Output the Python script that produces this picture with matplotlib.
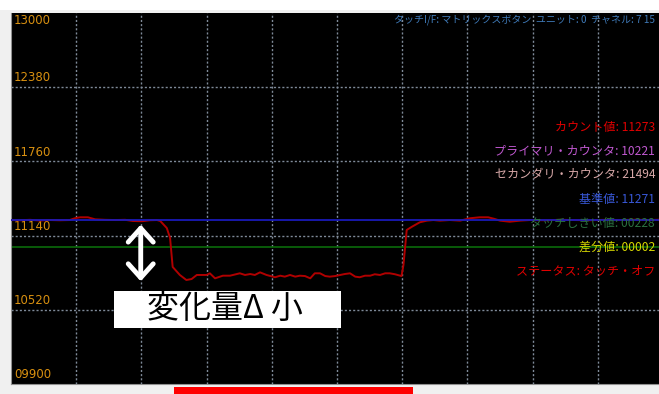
import matplotlib
matplotlib.use("Agg")
import matplotlib.pyplot as plt
from matplotlib.patches import Rectangle

plt.rcParams['font.family'] = ['Noto Sans CJK JP', 'DejaVu Sans']

# ---- data ----
y_ticks = [9900, 10520, 11140, 11760, 12380, 13000]
y_tick_labels = ["09900", "10520", "11140", "11760", "12380", "13000"]
baseline = 11271
threshold = 228
time = [0.00, 0.14, 0.29, 0.44, 0.60, 0.75, 0.90, 0.98, 1.06, 1.18, 1.29, 1.44, 1.60, 1.75,
        1.87, 2.01, 2.13, 2.24, 2.29, 2.39, 2.44, 2.48, 2.59, 2.69, 2.77, 2.85, 3.00, 3.05,
        3.13, 3.25, 3.36, 3.51, 3.59, 3.67, 3.74, 3.82, 3.92, 4.05, 4.13, 4.20, 4.28, 4.36,
        4.43, 4.51, 4.59, 4.66, 4.74, 4.82, 4.89, 4.97, 5.05, 5.12, 5.20, 5.28, 5.35, 5.43,
        5.51, 5.58, 5.66, 5.74, 5.81, 5.89, 5.99, 6.02, 6.07, 6.15, 6.27, 6.38, 6.48, 6.58,
        6.73, 6.89, 7.04, 7.19, 7.32, 7.42, 7.50, 7.65, 7.81, 7.96, 8.19, 8.42, 8.65, 8.88,
        9.11, 9.34, 9.57, 9.80, 9.94]
count = [11270, 11268, 11272, 11266, 11270, 11268, 11270, 11285, 11293, 11293, 11276, 11272,
         11270, 11272, 11262, 11260, 11268, 11270, 11262, 11203, 11120, 10878, 10811, 10769,
         10777, 10811, 10811, 10825, 10783, 10805, 10805, 10825, 10811, 10819, 10811, 10833,
         10811, 10792, 10805, 10797, 10811, 10797, 10805, 10802, 10783, 10825, 10825, 10802,
         10797, 10802, 10811, 10819, 10825, 10797, 10792, 10805, 10805, 10817, 10811, 10825,
         10825, 10817, 10802, 10894, 11187, 11214, 11251, 11265, 11270, 11265, 11270, 11265,
         11285, 11293, 11293, 11279, 11265, 11256, 11265, 11270, 11268, 11272, 11270, 11268,
         11272, 11270, 11273, 11270, 11273]
info_title = "タッチI/F: マトリックスボタン  ユニット: 0  チャネル: 7 15"
info_lines = ["カウント値: 11273", "プライマリ・カウンタ: 10221", "セカンダリ・カウンタ: 21494",
              "基準値: 11271", "タッチしきい値: 00228", "差分値: 00002", "ステータス: タッチ・オフ"]
info_colors = ["#e00000", "#c058d0", "#d8a8a8", "#3858d8", "#2a7040", "#d8d800", "#e00000"]
annotation = "変化量Δ 小"

W, H = 659, 394
fig = plt.figure(figsize=(W / 100, H / 100), dpi=100, facecolor="#f0f0f0")
# top white strip
fig.patches.append(Rectangle((0, (H - 10) / H), 1, 10 / H, transform=fig.transFigure,
                             facecolor="white", edgecolor="none", zorder=0))
# red progress bar at bottom
fig.patches.append(Rectangle((174 / W, 0), (413 - 174) / W, 7 / H, transform=fig.transFigure,
                             facecolor="#ff0000", edgecolor="none", zorder=1))

ax = fig.add_axes([11 / W, 10 / H, 648 / W, 371 / H])
ax.set_facecolor("black")
ax.set_xlim(0, 9.94)
ax.set_ylim(y_ticks[0], y_ticks[-1])
ax.set_xticks([])
ax.set_yticks([])
for s in ax.spines.values():
    s.set_visible(False)
ax.spines['left'].set_visible(True)
ax.spines['left'].set_color("#909090")
ax.spines['bottom'].set_visible(True)
ax.spines['bottom'].set_color("#909090")

# grid
for gx in range(1, 10):
    ax.axvline(gx, color="#7f8a99", lw=1, ls=(0, (1.5, 1.5)), zorder=1)
for gy in y_ticks[1:-1]:
    ax.axhline(gy, color="#7f8a99", lw=1, ls=(0, (1.5, 1.5)), zorder=1)

# y labels
for v, lab in zip(y_ticks, y_tick_labels):
    if v == y_ticks[-1]:
        ax.annotate(lab, xy=(0, v), xytext=(2, -1), textcoords="offset points",
                    va="top", ha="left", color="#d89010", fontsize=8.5, family="DejaVu Sans")
    else:
        ax.annotate(lab, xy=(0, v), xytext=(2, 2), textcoords="offset points",
                    va="bottom", ha="left", color="#d89010", fontsize=8.5, family="DejaVu Sans")

# lines
ax.plot(time, count, color="#b00000", lw=1.4, zorder=3)
ax.axhline(baseline, color="#1a1ab8", lw=1.3, zorder=4)
ax.axhline(baseline - threshold, color="#0a6a0a", lw=1.2, zorder=2)

# info texts
def px_to_axy(py):
    return (384 - py) / 371

ax.text(0.994, px_to_axy(20), info_title, transform=ax.transAxes, ha="right", va="center",
        color="#3f7ab8", fontsize=7.2, zorder=6)
for i, (t, c) in enumerate(zip(info_lines, info_colors)):
    ax.text(0.994, px_to_axy(127 + 24 * i), t, transform=ax.transAxes, ha="right", va="center",
            color=c, fontsize=8.7, zorder=6)

# double arrow
ax.annotate("", xy=(1.99, 11232), xytext=(1.99, 10758),
            arrowprops=dict(arrowstyle="<->,head_length=0.5,head_width=0.45", color="white",
                            lw=3.5, mutation_scale=20, shrinkA=0, shrinkB=0), zorder=7)

# white label box
ax.add_patch(Rectangle(((114 - 11) / 648, px_to_axy(328)), (341 - 114) / 648, 37 / 371,
                       transform=ax.transAxes, facecolor="white", edgecolor="none", zorder=8))
ax.text((225 - 11) / 648, px_to_axy(309), annotation, transform=ax.transAxes, ha="center",
        va="center", color="black", fontsize=23, zorder=9)

fig.savefig("out.png", dpi=100, facecolor=fig.get_facecolor())
